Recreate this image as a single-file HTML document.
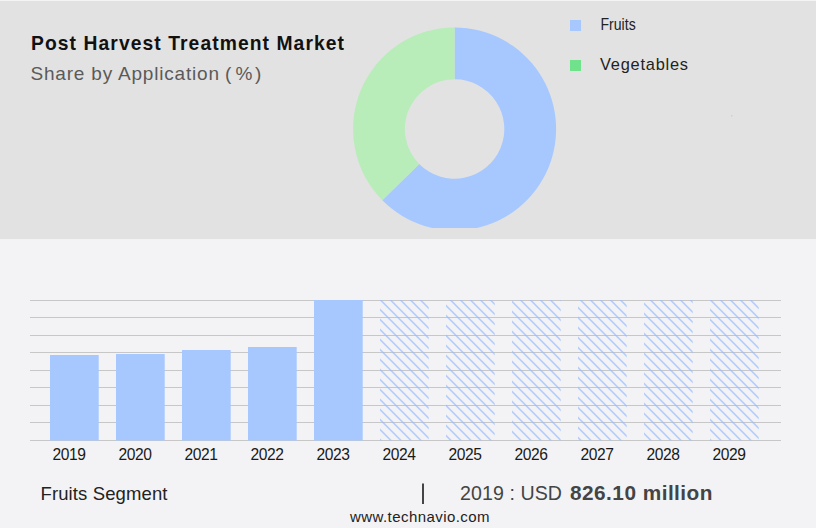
<!DOCTYPE html>
<html><head><meta charset="utf-8"><style>
html,body{margin:0;padding:0;width:816px;height:528px;overflow:hidden;background:#f3f3f5;}
svg{display:block;}
text{font-family:"Liberation Sans",sans-serif;}
</style></head><body>
<svg width="816" height="528" viewBox="0 0 816 528">
<defs>
<pattern id="hatch" patternUnits="userSpaceOnUse" width="10" height="10" x="0.5" y="0">
<path d="M-1,-1 L11,11 M-11,-1 L1,11 M9,-1 L21,11" stroke="#94bbff" stroke-width="1.15" fill="none"/>
</pattern>
<clipPath id="dclip"><rect x="340" y="0" width="240" height="228"/></clipPath>
</defs>
<rect x="0" y="0" width="816" height="239" fill="#e2e2e2"/>
<rect x="0" y="0" width="816" height="1" fill="#f4f4f5"/>
<!-- title -->
<text x="31" y="50" font-size="19.3" font-weight="700" fill="#111" textLength="313" lengthAdjust="spacing">Post Harvest Treatment Market</text>
<g font-size="19" fill="#5a5a5a"><text x="30.5" y="80" textLength="188.5" lengthAdjust="spacing">Share by Application</text>
<text x="225" y="80">(</text><text x="235.6" y="80">%</text><text x="255" y="80">)</text></g>
<!-- donut -->
<g clip-path="url(#dclip)">
<path fill="#a6c8ff" d="M454.6,27.5 A101.5,101.5 0 1 1 382.33,200.27 L419.21,163.9 A49.7,49.7 0 1 0 454.6,79.3 Z"/>
<path fill="#b8ecb9" d="M382.33,200.27 A101.5,101.5 0 0 1 454.6,27.5 L454.6,79.3 A49.7,49.7 0 0 0 419.21,163.9 Z"/>
</g>
<!-- legend -->
<rect x="570" y="20" width="11" height="11" fill="#a6c8ff"/>
<rect x="570" y="60" width="11" height="11" fill="#70e28c"/>
<text x="600.5" y="29.8" font-size="16.4" fill="#222" textLength="35.2" lengthAdjust="spacingAndGlyphs">Fruits</text>
<text x="600" y="69.8" font-size="16.4" fill="#222" textLength="88" lengthAdjust="spacing">Vegetables</text>
<rect x="731" y="115" width="1.5" height="1.5" fill="#d0d0d0"/>
<!-- gridlines -->
<g fill="#c7c7c7">
<rect x="30" y="300" width="751" height="1"/>
<rect x="30" y="317" width="751" height="1"/>
<rect x="30" y="335" width="751" height="1"/>
<rect x="30" y="352" width="751" height="1"/>
<rect x="30" y="370" width="751" height="1"/>
<rect x="30" y="387" width="751" height="1"/>
<rect x="30" y="405" width="751" height="1"/>
<rect x="30" y="422" width="751" height="1"/>
<rect x="30" y="440" width="751" height="1"/>
</g>
<!-- bars -->
<g fill="#a6c8ff">
<rect x="50" y="355" width="48.7" height="85.5"/>
<rect x="116" y="354" width="48.7" height="86.5"/>
<rect x="182" y="350" width="48.7" height="90.5"/>
<rect x="248" y="347" width="48.7" height="93.5"/>
<rect x="314" y="300" width="48.7" height="140.5"/>
</g>
<g fill="url(#hatch)">
<rect x="380" y="300" width="48.7" height="140.5"/>
<rect x="446" y="300" width="48.7" height="140.5"/>
<rect x="512" y="300" width="48.7" height="140.5"/>
<rect x="578" y="300" width="48.7" height="140.5"/>
<rect x="644" y="300" width="48.7" height="140.5"/>
<rect x="710" y="300" width="48.7" height="140.5"/>
</g>
<!-- x labels -->
<g font-size="15.6" fill="#1a1a1a" letter-spacing="-0.4">
<text x="52.5" y="460">2019</text>
<text x="118.5" y="460">2020</text>
<text x="184.5" y="460">2021</text>
<text x="250.5" y="460">2022</text>
<text x="316.5" y="460">2023</text>
<text x="382.5" y="460">2024</text>
<text x="448.5" y="460">2025</text>
<text x="514.5" y="460">2026</text>
<text x="580.5" y="460">2027</text>
<text x="646.5" y="460">2028</text>
<text x="712.5" y="460">2029</text>
</g>
<!-- footer -->
<text x="40.5" y="499.5" font-size="18.5" fill="#222" textLength="127" lengthAdjust="spacing">Fruits Segment</text>
<rect x="422" y="483.5" width="2" height="20.5" fill="#444"/>
<text x="460" y="499.6" font-size="19.6" fill="#444" textLength="102" lengthAdjust="spacing">2019 : USD</text>
<text x="570" y="499.7" font-size="20.8" font-weight="700" fill="#444" textLength="142.5" lengthAdjust="spacing">826.10 million</text>
<text x="350" y="521.6" font-size="15" fill="#222" textLength="139.5" lengthAdjust="spacing">www.technavio.com</text>
</svg>
</body></html>
